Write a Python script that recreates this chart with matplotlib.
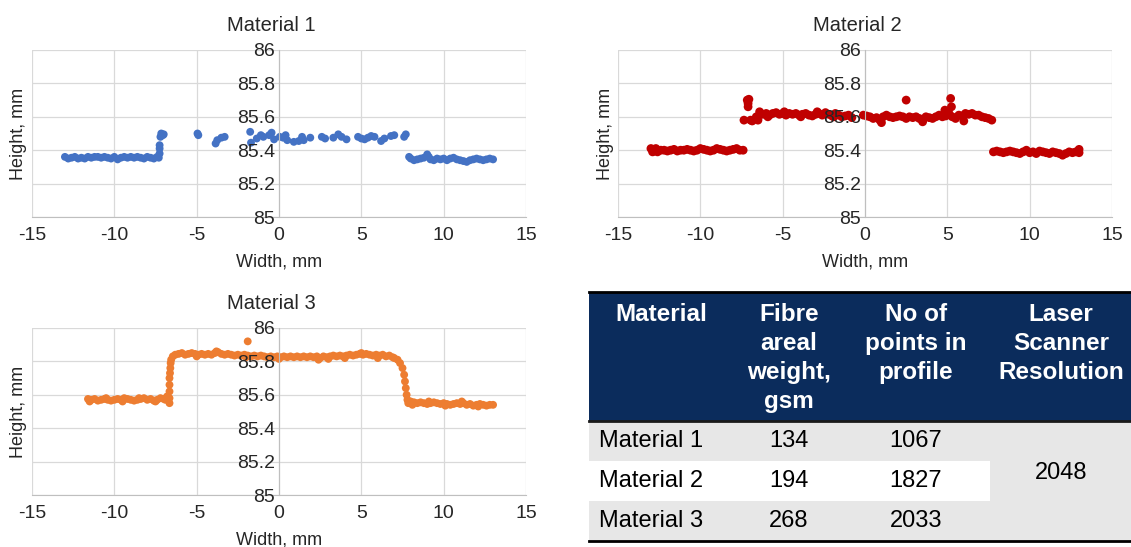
import numpy as np
import matplotlib
matplotlib.use('Agg')
from matplotlib import pyplot as plt
from matplotlib.patches import Rectangle

plt.rcParams['font.family'] = ['Liberation Sans', 'DejaVu Sans']
plt.rcParams['axes.unicode_minus'] = False

# height profiles (width mm, height mm)
m1_points = [
    (-13.0, 85.36), (-12.8, 85.35), (-12.6, 85.355), (-12.4, 85.36), (-12.2, 85.35), (-12.0, 85.355),
    (-11.8, 85.35), (-11.6, 85.36), (-11.4, 85.355), (-11.2, 85.36), (-11.0, 85.36), (-10.8, 85.355),
    (-10.6, 85.36), (-10.4, 85.355), (-10.2, 85.35), (-10.0, 85.36), (-9.8, 85.345), (-9.6, 85.355),
    (-9.4, 85.36), (-9.2, 85.355), (-9.0, 85.36), (-8.8, 85.355), (-8.6, 85.36), (-8.4, 85.355),
    (-8.2, 85.35), (-8.0, 85.36), (-7.8, 85.355), (-7.6, 85.35), (-7.4, 85.36), (-7.3, 85.355),
    (-7.25, 85.38), (-7.25, 85.41), (-7.25, 85.43), (-7.2, 85.48), (-7.15, 85.50), (-7.05, 85.49), (-7.0, 85.495),
    (-4.95, 85.50), (-4.9, 85.49), (-3.85, 85.44), (-3.75, 85.46), (-3.5, 85.475), (-3.3, 85.48),
    (-1.75, 85.51), (-1.7, 85.445), (-1.35, 85.47), (-1.1, 85.49), (-0.95, 85.48), (-0.6, 85.49),
    (-0.45, 85.505), (-0.3, 85.465), (0.05, 85.48), (0.25, 85.475), (0.4, 85.49), (0.5, 85.46),
    (0.9, 85.45), (1.2, 85.455), (1.4, 85.48), (1.5, 85.46), (1.9, 85.475), (2.6, 85.48), (2.8, 85.47),
    (3.3, 85.475), (3.6, 85.495), (3.8, 85.48), (4.1, 85.465), (4.8, 85.48), (5.0, 85.47), (5.2, 85.465),
    (5.4, 85.475), (5.6, 85.485), (5.8, 85.48), (6.2, 85.455), (6.4, 85.47), (6.8, 85.485), (7.0, 85.49),
    (7.6, 85.48), (7.7, 85.495),
    (7.9, 85.36), (8.0, 85.35), (8.2, 85.34), (8.4, 85.345), (8.6, 85.35), (8.8, 85.355), (9.0, 85.375),
    (9.1, 85.36), (9.2, 85.345), (9.4, 85.34), (9.6, 85.35), (9.8, 85.345), (10.0, 85.35), (10.2, 85.34),
    (10.4, 85.35), (10.6, 85.355), (10.8, 85.345), (11.0, 85.34), (11.2, 85.335), (11.4, 85.33),
    (11.6, 85.34), (11.8, 85.345), (12.0, 85.35), (12.2, 85.345), (12.4, 85.34), (12.6, 85.345),
    (12.8, 85.35), (13.0, 85.345),
]

m2_points = [
    (-13.0, 85.41), (-12.9, 85.39), (-12.8, 85.395), (-12.7, 85.41), (-12.6, 85.39), (-12.4, 85.40),
    (-12.2, 85.40), (-12.0, 85.395), (-11.8, 85.40), (-11.6, 85.405), (-11.4, 85.395), (-11.2, 85.40),
    (-11.0, 85.40), (-10.8, 85.405), (-10.6, 85.40), (-10.4, 85.395), (-10.2, 85.40), (-10.0, 85.41),
    (-9.8, 85.405), (-9.6, 85.40), (-9.4, 85.395), (-9.2, 85.40), (-9.0, 85.41), (-8.8, 85.405),
    (-8.6, 85.40), (-8.4, 85.395), (-8.2, 85.40), (-8.0, 85.405), (-7.8, 85.41), (-7.6, 85.40), (-7.4, 85.40),
    (-7.35, 85.58), (-7.15, 85.70), (-7.1, 85.68), (-7.05, 85.705), (-7.1, 85.66), (-6.95, 85.58), (-6.85, 85.575),
    (-6.6, 85.60), (-6.5, 85.58), (-6.4, 85.63), (-6.2, 85.615), (-6.0, 85.62), (-5.9, 85.60), (-5.8, 85.61),
    (-5.6, 85.62), (-5.4, 85.625), (-5.2, 85.615), (-5.0, 85.62), (-4.9, 85.63), (-4.8, 85.61), (-4.6, 85.62),
    (-4.4, 85.615), (-4.2, 85.62), (-4.0, 85.61), (-3.9, 85.60), (-3.8, 85.615), (-3.6, 85.62), (-3.4, 85.61),
    (-3.2, 85.605), (-3.0, 85.615), (-2.9, 85.63), (-2.8, 85.62), (-2.6, 85.61), (-2.4, 85.625), (-2.2, 85.615),
    (-2.0, 85.605), (-1.9, 85.60), (-1.8, 85.62), (-1.6, 85.61), (-1.4, 85.60), (-1.2, 85.605), (-1.0, 85.61),
    (-0.8, 85.595),
    (-0.1, 85.61), (0.1, 85.605), (0.3, 85.60), (0.5, 85.59), (0.7, 85.595), (0.9, 85.58), (1.1, 85.60),
    (1.3, 85.61), (1.5, 85.60), (1.7, 85.595), (1.9, 85.60), (2.1, 85.605), (2.3, 85.60), (2.5, 85.59),
    (2.7, 85.60), (2.9, 85.595), (3.1, 85.60), (3.3, 85.59), (3.5, 85.585), (3.7, 85.60), (3.9, 85.595),
    (4.1, 85.59), (4.3, 85.60), (4.5, 85.61), (4.7, 85.60), (4.9, 85.605), (5.1, 85.62), (5.3, 85.60),
    (5.5, 85.59), (5.7, 85.61), (5.9, 85.605), (6.1, 85.62), (6.3, 85.615), (6.5, 85.62), (6.7, 85.61),
    (6.9, 85.61), (7.1, 85.60), (7.3, 85.595), (7.5, 85.59), (7.7, 85.58),
    (2.5, 85.70), (5.2, 85.71), (5.25, 85.66), (4.85, 85.64), (1.0, 85.565), (3.5, 85.57), (6.0, 85.575),
    (7.8, 85.39), (8.0, 85.395), (8.2, 85.39), (8.4, 85.385), (8.6, 85.39), (8.8, 85.395), (9.0, 85.39),
    (9.2, 85.385), (9.4, 85.38), (9.6, 85.39), (9.8, 85.40), (10.0, 85.385), (10.2, 85.39), (10.4, 85.38),
    (10.6, 85.395), (10.8, 85.39), (11.0, 85.385), (11.2, 85.38), (11.4, 85.39), (11.6, 85.385),
    (11.8, 85.38), (12.0, 85.37), (12.2, 85.38), (12.4, 85.39), (12.6, 85.385), (12.8, 85.39),
    (13.0, 85.405), (13.0, 85.385),
]

m3_points = [
    (-11.6, 85.575), (-11.5, 85.56), (-11.4, 85.57), (-11.2, 85.575), (-11.0, 85.565), (-10.8, 85.57),
    (-10.6, 85.575), (-10.5, 85.58), (-10.4, 85.57), (-10.2, 85.565), (-10.0, 85.57), (-9.8, 85.575),
    (-9.6, 85.57), (-9.5, 85.56), (-9.4, 85.58), (-9.2, 85.575), (-9.0, 85.57), (-8.8, 85.565),
    (-8.6, 85.57), (-8.5, 85.58), (-8.4, 85.575), (-8.2, 85.58), (-8.0, 85.57), (-7.8, 85.575),
    (-7.6, 85.565), (-7.5, 85.56), (-7.4, 85.57), (-7.2, 85.58), (-7.0, 85.575), (-6.9, 85.57), (-6.8, 85.59),
    (-6.65, 85.55), (-6.65, 85.58), (-6.65, 85.62), (-6.65, 85.66), (-6.65, 85.70), (-6.62, 85.73),
    (-6.6, 85.76), (-6.58, 85.79), (-6.55, 85.81), (-6.45, 85.83),
    (-6.3, 85.84), (-6.1, 85.845), (-5.9, 85.85), (-5.7, 85.84), (-5.5, 85.845), (-5.3, 85.85),
    (-5.1, 85.845), (-5.0, 85.83), (-4.9, 85.84), (-4.7, 85.845), (-4.5, 85.84), (-4.3, 85.845),
    (-4.1, 85.84), (-3.9, 85.85), (-3.8, 85.86), (-3.7, 85.855), (-3.5, 85.845), (-3.3, 85.84),
    (-3.1, 85.845), (-2.9, 85.84), (-2.7, 85.835), (-2.5, 85.84), (-2.3, 85.835), (-2.1, 85.84),
    (-2.0, 85.825), (-1.9, 85.835), (-1.7, 85.83), (-1.5, 85.835), (-1.3, 85.83), (-1.1, 85.835),
    (-0.9, 85.83), (-0.7, 85.825), (-0.5, 85.83), (-0.3, 85.825), (-0.1, 85.83), (0.0, 85.815),
    (0.1, 85.825), (0.3, 85.83), (0.5, 85.825), (0.7, 85.83), (0.9, 85.825), (1.1, 85.83), (1.3, 85.825),
    (1.5, 85.83), (1.7, 85.825), (1.9, 85.83), (2.1, 85.825), (2.3, 85.83), (2.4, 85.81), (2.5, 85.82),
    (2.7, 85.83), (2.9, 85.825), (3.0, 85.815), (3.1, 85.83), (3.3, 85.835), (3.5, 85.83), (3.7, 85.835),
    (3.9, 85.83), (4.0, 85.82), (4.1, 85.835), (4.3, 85.84), (4.5, 85.835), (4.7, 85.84), (4.9, 85.845),
    (5.0, 85.85), (5.1, 85.84), (5.3, 85.845), (5.5, 85.84), (5.7, 85.835), (5.9, 85.84), (6.0, 85.82),
    (6.1, 85.835), (6.3, 85.84), (6.5, 85.83), (6.7, 85.835), (6.9, 85.825),
    (7.0, 85.82), (7.2, 85.81), (7.35, 85.79), (7.5, 85.76), (7.6, 85.72), (7.65, 85.68), (7.7, 85.64),
    (7.75, 85.60), (7.8, 85.57), (7.85, 85.55),
    (-1.9, 85.92),
    (8.0, 85.56), (8.1, 85.54), (8.2, 85.555), (8.4, 85.55), (8.6, 85.555), (8.8, 85.55), (9.0, 85.545),
    (9.1, 85.56), (9.2, 85.55), (9.4, 85.555), (9.6, 85.55), (9.8, 85.545), (10.0, 85.55), (10.1, 85.535),
    (10.2, 85.545), (10.4, 85.54), (10.6, 85.545), (10.8, 85.55), (11.0, 85.545), (11.1, 85.56),
    (11.2, 85.55), (11.4, 85.54), (11.6, 85.545), (11.8, 85.535), (12.0, 85.54), (12.1, 85.53),
    (12.2, 85.545), (12.4, 85.54), (12.6, 85.535), (12.8, 85.54), (13.0, 85.54),
]

x_ticks = [-15, -10, -5, 0, 5, 10, 15]
y_ticks = [85, 85.2, 85.4, 85.6, 85.8, 86]

# table contents
tbl_header = ['Material', 'Fibre\nareal\nweight,\ngsm', 'No of\npoints in\nprofile', 'Laser\nScanner\nResolution']
tbl_material = ['Material 1', 'Material 2', 'Material 3']
tbl_fibre = [134, 194, 268]
tbl_points = [1067, 1827, 2033]
tbl_resolution = 2048

W, H = 1131, 547
fig = plt.figure(figsize=(W / 100, H / 100), dpi=100)

grid_c = '#d9d9d9'
text_c = '#262626'


def profile(rect, pts, color, title, size, ylab_x):
    ax = fig.add_axes(rect)
    x = [p[0] for p in pts]
    y = [p[1] for p in pts]
    for t in x_ticks:
        ax.axvline(t, color=grid_c, lw=0.9, zorder=0)
    for t in y_ticks:
        ax.axhline(t, color=grid_c, lw=0.9, zorder=0)
    ax.scatter(x, y, s=size, color=color, edgecolors='none', zorder=2)
    ax.set_xlim(-15, 15)
    ax.set_ylim(85, 86)
    ax.set_xticks(x_ticks)
    ax.set_yticks(y_ticks)
    ax.set_yticklabels(['{:g}'.format(v) for v in y_ticks])
    for s in ['top', 'right']:
        ax.spines[s].set_visible(False)
    ax.spines['left'].set_position(('data', 0))
    ax.spines['left'].set_color('#bfbfbf')
    ax.spines['bottom'].set_color('#bfbfbf')
    ax.tick_params(length=0, labelsize=14, labelcolor=text_c)
    ax.tick_params(axis='x', pad=7)
    ax.tick_params(axis='y', pad=3)
    ax.set_axisbelow(False)
    ax.set_title(title, fontsize=14.5, color=text_c, x=0.484, y=1.0, pad=14)
    ax.set_xlabel('Width, mm', fontsize=13, color=text_c)
    ax.set_ylabel('Height, mm', fontsize=13, color=text_c)
    ax.yaxis.set_label_coords(ylab_x, 0.5)
    ax.xaxis.set_label_coords(0.5, -0.22)
    return ax


profile([32 / W, 1 - 217 / H, 494 / W, 167 / H], m1_points, '#4472c4', 'Material 1', 32, -0.010)
profile([618 / W, 1 - 217 / H, 494 / W, 167 / H], m2_points, '#c00000', 'Material 2', 40, -0.009)
profile([32 / W, 1 - 495 / H, 494 / W, 167 / H], m3_points, '#ed7d31', 'Material 3', 32, -0.010)

# table drawn in pixel coordinates
tab = fig.add_axes([0, 0, 1, 1], zorder=-1)
tab.set_xlim(0, W)
tab.set_ylim(H, 0)
tab.axis('off')

navy = '#0b2c5c'
band = '#e7e7e7'
left, right = 589, W
top, head_bot = 292, 421
row_h = 40
col_mid = [661, 789, 916, 1061]
res_left = 990

tab.add_patch(Rectangle((left, top), right - left, head_bot - top, color=navy, lw=0))
for i in range(len(tbl_material)):
    y0 = head_bot + i * row_h
    if i != 1:
        tab.add_patch(Rectangle((left, y0), res_left - left, row_h, color=band, lw=0))
tab.add_patch(Rectangle((res_left, head_bot), right - res_left, row_h * 3, color=band, lw=0))
tab.plot([left, right], [top, top], color='black', lw=2)
tab.plot([left, right], [head_bot, head_bot], color='#1a1a1a', lw=2)
tab.plot([left, right], [head_bot + row_h * 3, head_bot + row_h * 3], color='black', lw=2)

for j, h in enumerate(tbl_header):
    tab.text(col_mid[j], top + 11, h, ha='center', va='top', color='white',
             fontsize=17.5, fontweight='bold', linespacing=1.33)

for i in range(len(tbl_material)):
    yc = head_bot + i * row_h + row_h / 2
    tab.text(599, yc, tbl_material[i], ha='left', va='center', fontsize=17, color='black')
    tab.text(col_mid[1], yc, str(tbl_fibre[i]), ha='center', va='center', fontsize=17, color='black')
    tab.text(col_mid[2], yc, str(tbl_points[i]), ha='center', va='center', fontsize=17, color='black')
tab.text(col_mid[3], head_bot + row_h * 1.3, str(tbl_resolution), ha='center', va='center',
         fontsize=17, color='black')

fig.savefig('out.png', dpi=100)
